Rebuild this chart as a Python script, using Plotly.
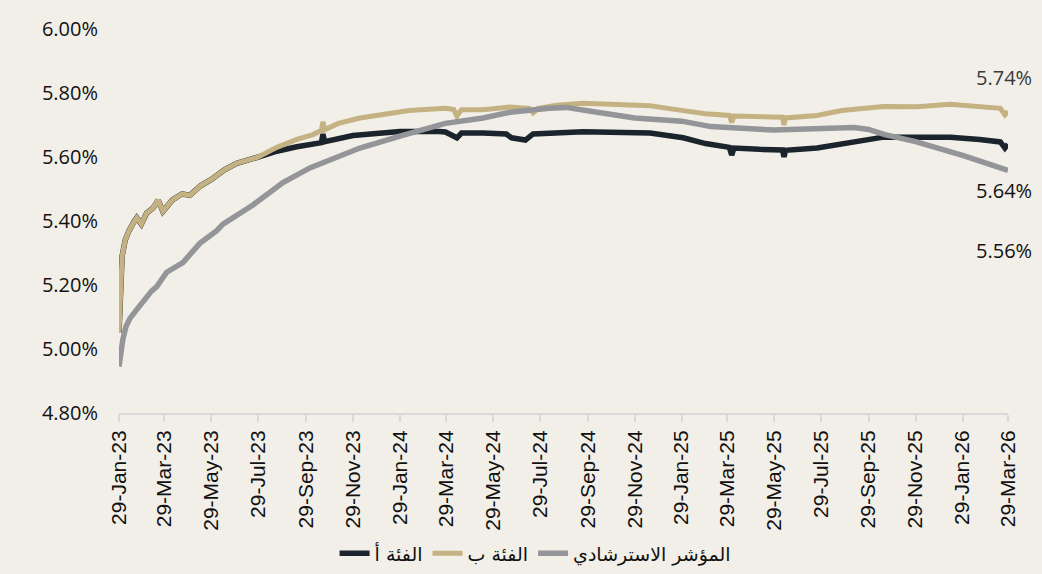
import plotly.graph_objects as go

# ---------------- data ----------------
series_names = ["الفئة أ", "الفئة ب", "المؤشر الاسترشادي"]

class_b_dates = [
    "2023-01-29", "2023-01-30", "2023-02-02", "2023-02-06", "2023-02-11", "2023-02-18",
    "2023-02-21", "2023-02-27", "2023-03-06", "2023-03-14", "2023-03-21", "2023-03-27",
    "2023-04-08", "2023-04-21", "2023-05-01", "2023-05-15", "2023-05-29", "2023-06-15",
    "2023-07-01", "2023-07-29", "2023-08-22", "2023-09-17", "2023-10-08", "2023-10-19",
    "2023-10-21", "2023-10-23", "2023-11-10", "2023-12-08", "2024-01-10", "2024-02-10",
    "2024-03-28", "2024-04-08", "2024-04-12", "2024-04-18", "2024-05-16", "2024-06-20",
    "2024-07-15", "2024-07-20", "2024-07-26", "2024-08-20", "2024-09-23", "2024-11-01",
    "2024-12-19", "2025-01-31", "2025-03-01", "2025-04-01", "2025-04-04", "2025-04-07",
    "2025-05-10", "2025-06-09", "2025-06-11", "2025-06-13", "2025-07-24", "2025-08-25",
    "2025-10-18", "2025-12-01", "2026-01-13", "2026-02-20", "2026-03-19", "2026-03-25",
    "2026-03-29",
]
class_b_values = [
    5.05, 5.15, 5.29, 5.34, 5.37, 5.40,
    5.41, 5.39, 5.425, 5.44, 5.465, 5.43,
    5.465, 5.485, 5.48, 5.51, 5.53, 5.56,
    5.58, 5.60, 5.63, 5.655, 5.67, 5.683,
    5.71, 5.685, 5.705, 5.722, 5.735, 5.745,
    5.752, 5.748, 5.728, 5.748, 5.748, 5.756,
    5.752, 5.738, 5.752, 5.762, 5.768, 5.765,
    5.76, 5.745, 5.735, 5.73, 5.708, 5.728,
    5.726, 5.724, 5.70, 5.722, 5.73, 5.745,
    5.758, 5.757, 5.765, 5.757, 5.752, 5.732,
    5.742,
]

class_a_dates = [
    "2023-01-29", "2023-01-30", "2023-02-02", "2023-02-06", "2023-02-11", "2023-02-18",
    "2023-02-21", "2023-02-27", "2023-03-06", "2023-03-14", "2023-03-21", "2023-03-27",
    "2023-04-08", "2023-04-21", "2023-05-01", "2023-05-15", "2023-05-29", "2023-06-15",
    "2023-07-01", "2023-07-29", "2023-08-22", "2023-09-17", "2023-10-08", "2023-10-19",
    "2023-10-21", "2023-10-23", "2023-11-29", "2024-01-29", "2024-03-20", "2024-03-28",
    "2024-04-12", "2024-04-18", "2024-05-16", "2024-06-15", "2024-06-22", "2024-07-10",
    "2024-07-20", "2024-09-23", "2024-12-19", "2025-01-31", "2025-03-01", "2025-04-01",
    "2025-04-04", "2025-04-07", "2025-05-10", "2025-06-09", "2025-06-11", "2025-06-13",
    "2025-07-24", "2025-09-01", "2025-10-18", "2025-12-01", "2026-01-13", "2026-02-20",
    "2026-03-19", "2026-03-25", "2026-03-29",
]
class_a_values = [
    5.05, 5.15, 5.29, 5.34, 5.37, 5.40,
    5.41, 5.39, 5.425, 5.44, 5.465, 5.43,
    5.465, 5.485, 5.48, 5.51, 5.53, 5.56,
    5.58, 5.60, 5.618, 5.632, 5.64, 5.645,
    5.672, 5.648, 5.667, 5.68, 5.68, 5.678,
    5.66, 5.675, 5.675, 5.672, 5.66, 5.653,
    5.672, 5.679, 5.675, 5.66, 5.642, 5.63,
    5.606, 5.628, 5.624, 5.622, 5.60, 5.621,
    5.628, 5.645, 5.662, 5.662, 5.662, 5.655,
    5.647, 5.628, 5.64,
]

benchmark_dates = [
    "2023-01-29", "2023-01-31", "2023-02-03", "2023-02-07", "2023-02-12", "2023-02-20",
    "2023-03-01", "2023-03-12", "2023-03-19", "2023-04-01", "2023-04-22", "2023-05-14",
    "2023-06-05", "2023-06-13", "2023-07-22", "2023-08-30", "2023-10-04", "2023-11-08",
    "2023-12-08", "2024-01-29", "2024-03-28", "2024-05-16", "2024-06-20", "2024-08-10",
    "2024-09-01", "2024-10-05", "2024-11-29", "2025-01-29", "2025-03-08", "2025-05-29",
    "2025-07-29", "2025-09-10", "2025-09-29", "2025-10-20", "2025-11-29", "2026-01-29",
    "2026-03-29",
]
benchmark_values = [
    4.945, 4.99, 5.03, 5.07, 5.095, 5.12,
    5.15, 5.18, 5.195, 5.24, 5.27, 5.33,
    5.37, 5.39, 5.45, 5.52, 5.566, 5.597,
    5.628, 5.665, 5.705, 5.722, 5.74, 5.752,
    5.755, 5.742, 5.722, 5.712, 5.695, 5.684,
    5.688, 5.692, 5.686, 5.670, 5.648, 5.605,
    5.558,
]

x_tick_dates = [
    "2023-01-29", "2023-03-29", "2023-05-29", "2023-07-29", "2023-09-29", "2023-11-29",
    "2024-01-29", "2024-03-29", "2024-05-29", "2024-07-29", "2024-09-29", "2024-11-29",
    "2025-01-29", "2025-03-29", "2025-05-29", "2025-07-29", "2025-09-29", "2025-11-29",
    "2026-01-29", "2026-03-29",
]
x_tick_labels = [
    "29-Jan-23", "29-Mar-23", "29-May-23", "29-Jul-23", "29-Sep-23", "29-Nov-23",
    "29-Jan-24", "29-Mar-24", "29-May-24", "29-Jul-24", "29-Sep-24", "29-Nov-24",
    "29-Jan-25", "29-Mar-25", "29-May-25", "29-Jul-25", "29-Sep-25", "29-Nov-25",
    "29-Jan-26", "29-Mar-26",
]
y_tick_values = [4.8, 5.0, 5.2, 5.4, 5.6, 5.8, 6.0]
y_tick_labels = ["4.80%", "5.00%", "5.20%", "5.40%", "5.60%", "5.80%", "6.00%"]

end_labels = ["5.74%", "5.64%", "5.56%"]

# ---------------- figure ----------------
BG = "#F2EFE8"
C_A = "#1B242C"
C_B = "#C4B283"
C_BM = "#939598"

fig = go.Figure()
fig.add_trace(go.Scatter(x=class_a_dates, y=class_a_values, mode="lines",
                         name=series_names[0], line=dict(color=C_A, width=5.5)))
fig.add_trace(go.Scatter(x=class_b_dates, y=class_b_values, mode="lines",
                         name=series_names[1], line=dict(color=C_B, width=5)))
fig.add_trace(go.Scatter(x=benchmark_dates, y=benchmark_values, mode="lines",
                         name=series_names[2], line=dict(color=C_BM, width=5.5)))

label_colors = ["#3a3a3a", "#111111", "#111111"]
label_y = [5.85, 5.494, 5.309]
for txt, yy, col in zip(end_labels, label_y, label_colors):
    fig.add_annotation(text=txt, xref="paper", x=0.962, xanchor="left",
                       yref="y", y=yy, yanchor="middle", showarrow=False,
                       font=dict(family="Open Sans", size=20, color=col))

fig.update_layout(
    width=1042, height=574,
    paper_bgcolor=BG, plot_bgcolor=BG,
    margin=dict(l=119, r=34, t=29, b=161, autoexpand=False),
    showlegend=True,
    legend=dict(orientation="h", xref="container", x=0.514, xanchor="center",
                yref="container", y=0.036, yanchor="middle",
                font=dict(family="DejaVu Sans", size=19, color="#111111"),
                bgcolor="rgba(0,0,0,0)", traceorder="normal"),
    xaxis=dict(type="date", range=[x_tick_dates[0], x_tick_dates[-1]],
               tickvals=x_tick_dates, ticktext=x_tick_labels, tickangle=-90,
               showgrid=False, zeroline=False, automargin=False,
               showline=True, linecolor="#D9D9D9", linewidth=2,
               ticks="outside", ticklen=7, tickcolor="#D9D9D9", tickwidth=2,
               tickfont=dict(family="Liberation Sans", size=21, color="#111111")),
    yaxis=dict(range=[4.8, 6.0], tickvals=y_tick_values, ticktext=y_tick_labels,
               showgrid=False, zeroline=False, showline=False, automargin=False,
               ticklabelstandoff=20,
               tickfont=dict(family="Open Sans", size=20, color="#111111")),
)

fig.write_html("out.html", config={"displayModeBar": False},
               post_script="document.body.style.margin='0';")
